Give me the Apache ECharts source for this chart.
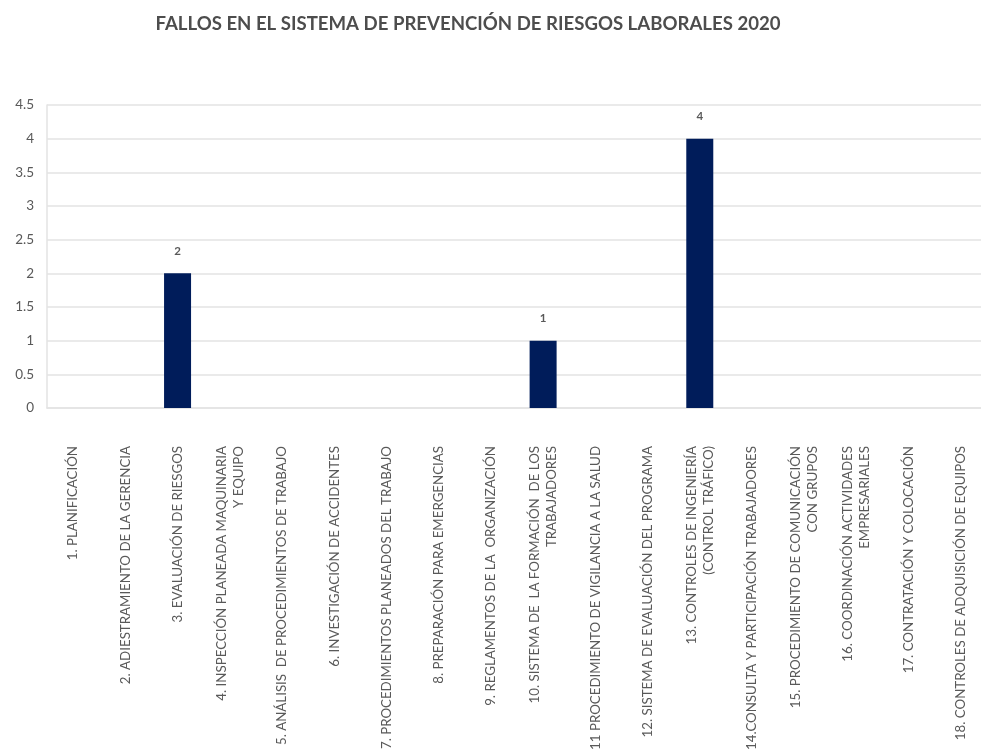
<!DOCTYPE html>
<html>
<head>
<meta charset="utf-8">
<script src="https://cdn.jsdelivr.net/npm/echarts@6/dist/echarts.min.js"></script>
<style>
html,body{margin:0;padding:0;background:#fff;overflow:hidden;}
#chart{width:990px;height:753px;}
</style>
</head>
<body>
<div id="chart"></div>
<script>
const titleText = 'FALLOS EN EL SISTEMA DE PREVENCIÓN DE RIESGOS LABORALES 2020';
const categories = [
  '1. PLANIFICACIÓN',
  '2. ADIESTRAMIENTO DE LA GERENCIA',
  '3. EVALUACIÓN DE RIESGOS',
  '4. INSPECCIÓN PLANEADA MAQUINARIA\nY EQUIPO',
  '5. ANÁLISIS  DE PROCEDIMIENTOS DE TRABAJO',
  '6. INVESTIGACIÓN DE ACCIDENTES',
  '7. PROCEDIMIENTOS PLANEADOS DEL TRABAJO',
  '8. PREPARACIÓN PARA EMERGENCIAS',
  '9. REGLAMENTOS DE LA  ORGANIZACIÓN',
  '10. SISTEMA DE  LA FORMACIÓN  DE LOS\nTRABAJADORES',
  '11 PROCEDIMIENTO DE VIGILANCIA A LA SALUD',
  '12. SISTEMA DE EVALUACIÓN DEL PROGRAMA',
  '13. CONTROLES DE INGENIERÍA\n(CONTROL TRÁFICO)',
  '14.CONSULTA Y PARTICIPACIÓN TRABAJADORES',
  '15. PROCEDIMIENTO DE COMUNICACIÓN\nCON GRUPOS',
  '16. COORDINACIÓN ACTIVIDADES\nEMPRESARIALES',
  '17. CONTRATACIÓN Y COLOCACIÓN',
  '18. CONTROLES DE ADQUISICIÓN DE EQUIPOS'
];
const values = [0, 0, 2, 0, 0, 0, 0, 0, 0, 1, 0, 0, 4, 0, 0, 0, 0, 0];
const yMin = 0, yMax = 4.5, yInterval = 0.5;

const chart = echarts.init(document.getElementById('chart'));
chart.setOption({
  animation: false,
  backgroundColor: '#ffffff',
  title: {
    text: titleText,
    left: 463, top: 9, textAlign: 'center',
    textStyle: { fontFamily: 'Lato', fontWeight: 'bold', fontSize: 18.6, color: '#4d4d4d' }
  },
  grid: { left: 47, width: 940, top: 105, bottom: 345, containLabel: false, outerBoundsMode: 'none' },
  xAxis: {
    type: 'category',
    data: categories,
    axisLine: { show: true, lineStyle: { color: '#e3e3e3', width: 1.5 } },
    axisTick: { show: false },
    axisLabel: {
      interval: 0, rotate: 90, margin: 38,
      fontFamily: 'Lato', fontSize: 13.3, color: '#595959', lineHeight: 17
    }
  },
  yAxis: {
    type: 'value', min: yMin, max: yMax, interval: yInterval,
    axisLine: { show: true, lineStyle: { color: '#e3e3e3', width: 1.5 } },
    axisTick: { show: false },
    splitLine: { lineStyle: { color: '#e3e3e3', width: 1.5 } },
    axisLabel: { fontFamily: 'Lato', fontSize: 13.5, color: '#595959', margin: 13 }
  },
  series: [{
    type: 'bar',
    data: values,
    barWidth: 27,
    itemStyle: { color: '#001c5a' },
    label: {
      show: true, position: 'top', distance: 16,
      fontFamily: 'Lato', fontWeight: 'bold', fontSize: 11.5, color: '#595959',
      formatter: p => (p.value ? String(p.value) : '')
    }
  }]
});
</script>
</body>
</html>
